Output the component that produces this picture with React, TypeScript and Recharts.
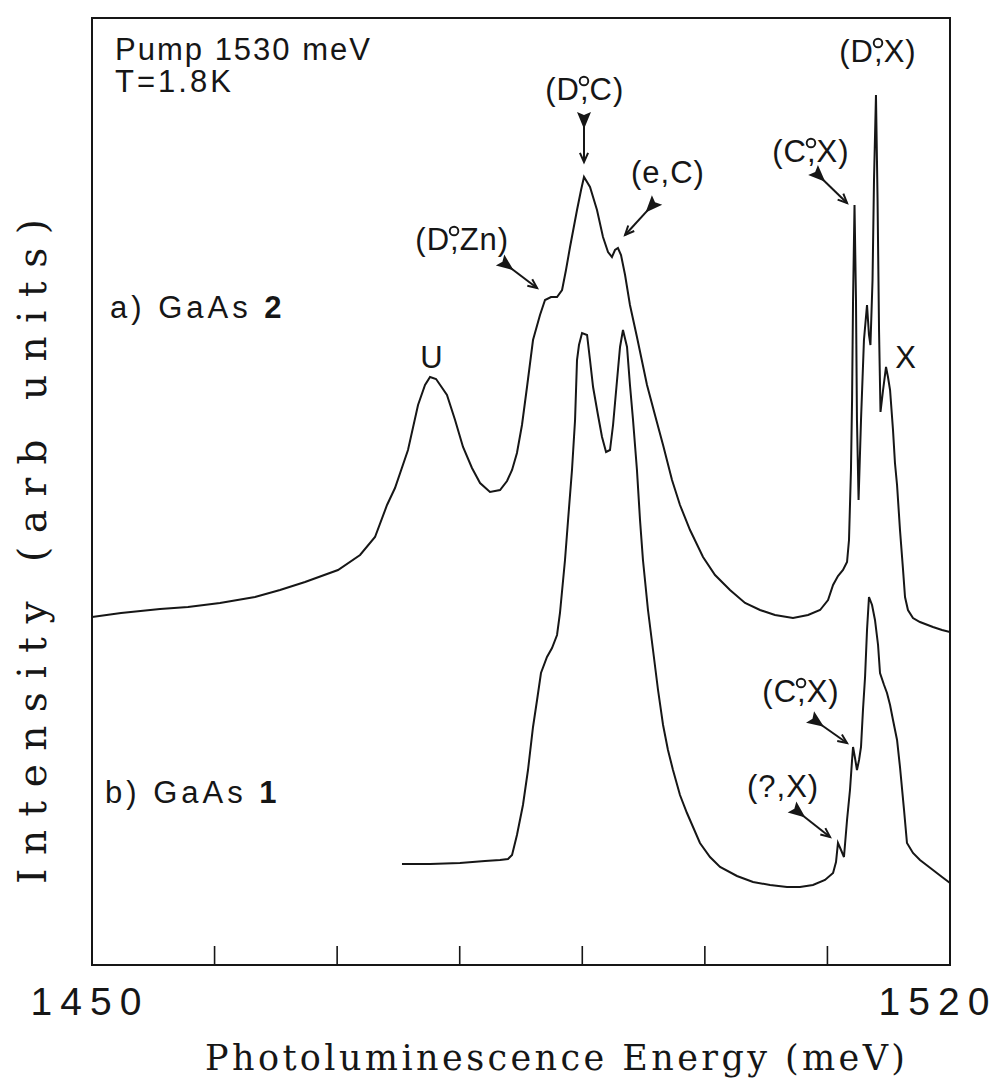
import { LineChart, Line, XAxis, YAxis, ReferenceArea, ReferenceDot } from 'recharts';

// photon energy (meV), intensity (arb. units)
const gaas2: [number, number][] = [
  [1450.0, 348], [1452.37, 352], [1455.55, 356], [1457.83, 358], [1460.44, 362],
  [1463.3, 368], [1465.34, 375], [1467.38, 383], [1470.07, 395], [1471.87, 410],
  [1473.09, 428], [1474.07, 460], [1474.72, 477], [1475.78, 515], [1476.6, 560],
  [1477.17, 580], [1477.58, 588], [1478.07, 586], [1478.96, 570], [1479.62, 545],
  [1480.27, 518], [1481.0, 497], [1481.66, 482], [1482.47, 473], [1483.29, 475],
  [1483.86, 484], [1484.27, 495], [1484.67, 512], [1485.08, 540], [1485.49, 578],
  [1485.98, 625], [1486.55, 650], [1486.96, 665], [1487.45, 668], [1487.94, 668],
  [1488.35, 675], [1488.67, 695], [1489.0, 718], [1489.57, 755], [1489.9, 775],
  [1490.14, 788], [1490.63, 778], [1491.2, 755], [1491.69, 728], [1492.1, 713],
  [1492.42, 708], [1492.67, 715], [1492.91, 717], [1493.16, 710], [1493.49, 690],
  [1493.89, 660], [1494.46, 628], [1495.28, 580], [1495.93, 550], [1496.59, 520],
  [1497.32, 485], [1497.97, 460], [1498.79, 435], [1499.85, 408], [1500.83, 390],
  [1502.05, 375], [1503.28, 362], [1504.5, 355], [1505.72, 350], [1507.19, 347],
  [1508.42, 350], [1509.4, 355], [1510.05, 365], [1510.46, 380], [1510.86, 389],
  [1511.27, 395], [1511.6, 403], [1511.76, 425], [1511.92, 495], [1512.01, 565],
  [1512.09, 665], [1512.21, 760], [1512.33, 665], [1512.41, 545], [1512.54, 465],
  [1512.74, 545], [1512.98, 625], [1513.23, 660], [1513.39, 630], [1513.51, 620],
  [1513.68, 685], [1513.8, 785], [1513.96, 870], [1514.09, 765], [1514.21, 635],
  [1514.33, 553], [1514.54, 575], [1514.78, 598], [1514.94, 588], [1515.11, 575],
  [1515.35, 535], [1515.51, 502], [1515.68, 480], [1515.92, 435], [1516.17, 395],
  [1516.33, 368], [1516.57, 355], [1516.98, 347], [1517.55, 343], [1518.61, 338],
  [1519.35, 335], [1520.0, 333],
];

const gaas1: [number, number][] = [
  [1475.29, 101], [1477.58, 101], [1480.02, 102], [1482.06, 104], [1483.29, 105],
  [1483.94, 106], [1484.27, 110], [1484.67, 130], [1485.16, 160], [1485.57, 195],
  [1485.98, 238], [1486.31, 265], [1486.63, 292], [1487.12, 308], [1487.53, 317],
  [1487.94, 330], [1488.18, 352], [1488.59, 405], [1488.84, 445], [1489.16, 495],
  [1489.41, 545], [1489.57, 605], [1489.73, 620], [1489.98, 632], [1490.39, 630],
  [1490.63, 605], [1490.88, 578], [1491.28, 550], [1491.61, 528], [1491.94, 513],
  [1492.26, 515], [1492.51, 540], [1492.67, 562], [1492.91, 595], [1493.08, 618],
  [1493.32, 635], [1493.65, 618], [1493.89, 580], [1494.14, 545], [1494.46, 495],
  [1494.71, 445], [1494.95, 405], [1495.36, 355], [1495.77, 315], [1496.18, 275],
  [1496.59, 240], [1496.99, 215], [1497.4, 195], [1497.97, 170], [1498.54, 152],
  [1499.6, 122], [1500.42, 108], [1501.24, 98], [1502.62, 89], [1503.93, 83],
  [1505.32, 80], [1506.7, 78], [1507.76, 78], [1508.82, 80], [1509.8, 85],
  [1510.46, 92], [1510.7, 103], [1510.86, 122], [1511.11, 115], [1511.35, 108],
  [1511.6, 145], [1511.84, 175], [1512.01, 205], [1512.09, 218], [1512.25, 207],
  [1512.41, 195], [1512.58, 205], [1512.74, 218], [1512.9, 255], [1513.07, 288],
  [1513.23, 335], [1513.39, 368], [1513.64, 360], [1513.88, 345], [1514.13, 320],
  [1514.29, 292], [1514.62, 280], [1514.86, 272], [1515.11, 260], [1515.35, 245],
  [1515.68, 225], [1515.92, 198], [1516.25, 155], [1516.49, 122], [1516.98, 112],
  [1517.55, 105], [1518.61, 95], [1519.35, 88], [1520.0, 82],
];

const energyTicks = [1450, 1460, 1470, 1480, 1490, 1500, 1510, 1520];
const labelledTicks = [1450, 1520];

// text placed in data space (energy, intensity); labels with a ° ring are anchored at the comma
const notes = [
  { e: 1451.88, i: 905, text: 'Pump 1530 meV', anchor: 'start', spacing: 2 },
  { e: 1451.88, i: 873, text: 'T=1.8K', anchor: 'start', spacing: 3 },
  { e: 1451.47, i: 647, text: 'a) GaAs ', bold: '2', anchor: 'start', spacing: 4 },
  { e: 1451.06, i: 162, text: 'b) GaAs ', bold: '1', anchor: 'start', spacing: 4 },
  { e: 1477.74, i: 597, text: 'U' },
  { e: 1516.41, i: 597, text: 'X' },
  { e: 1479.13, i: 715, text: '(D°,Zn)' },
  { e: 1489.73, i: 865, text: '(D°,C)' },
  { e: 1496.99, i: 782, text: '(e,C)' },
  { e: 1513.72, i: 903, text: '(D°,X)' },
  { e: 1508.25, i: 803, text: '(C°,X)' },
  { e: 1507.44, i: 263, text: '(C°,X)' },
  { e: 1506.38, i: 168, text: '(?,X)' },
];

// arrow tips sit on the features; dx/dy is the tail offset in px
const arrows = [
  { e: 1486.31, i: 677, dx: -37, dy: -28 },
  { e: 1490.14, i: 803, dx: 0, dy: -50 },
  { e: 1493.49, i: 730, dx: 32, dy: -35 },
  { e: 1511.6, i: 762, dx: -34, dy: -33 },
  { e: 1511.6, i: 222, dx: -37, dy: -26 },
  { e: 1510.21, i: 128, dx: -38, dy: -30 },
];

const sans = '"Liberation Sans", Arial, sans-serif';
const serif = '"DejaVu Serif", serif';
const ink = '#161616';
const noteSize = 31;

const rows = (pts: [number, number][]) => pts.map(([e, i]) => ({ e, i }));

function NoteText({ cx, cy, text, bold, anchor, spacing }: any) {
  const parts = text.split('°');
  const common = { y: cy, fontFamily: sans, fontSize: noteSize, fill: ink, letterSpacing: spacing ?? 1 };
  if (parts.length === 2) {
    // the small ring sits over the comma, as in (D°,C)
    return (
      <g>
        <text {...common} x={cx + 1} textAnchor="end">{parts[0]}</text>
        <circle cx={cx + 5} cy={cy - 19} r={4.3} fill="none" stroke={ink} strokeWidth={1.9} />
        <text {...common} x={cx + 1} textAnchor="start">{parts[1]}</text>
      </g>
    );
  }
  return (
    <text {...common} x={cx} textAnchor={anchor ?? 'middle'}>
      {text}
      {bold && <tspan fontWeight="bold">{bold}</tspan>}
    </text>
  );
}

function Dart({ cx, cy, dx, dy }: any) {
  const len = Math.hypot(dx, dy);
  const ux = -dx / len;
  const uy = -dy / len;
  const px = -uy;
  const py = ux;
  const tx = cx + dx;
  const ty = cy + dy;
  const head = 10;
  const a = 0.42;
  const bx = -ux;
  const by = -uy;
  const h1 = [cx + head * (bx * Math.cos(a) - by * Math.sin(a)), cy + head * (bx * Math.sin(a) + by * Math.cos(a))];
  const h2 = [cx + head * (bx * Math.cos(-a) - by * Math.sin(-a)), cy + head * (bx * Math.sin(-a) + by * Math.cos(-a))];
  const fl = [
    [tx + px * 7, ty + py * 7],
    [tx + ux * 17, ty + uy * 17],
    [tx - px * 7, ty - py * 7],
    [tx + ux * 3, ty + uy * 3],
  ];
  return (
    <g>
      <line x1={tx + ux * 10} y1={ty + uy * 10} x2={cx} y2={cy} stroke={ink} strokeWidth={2} />
      <polyline points={`${h1[0]},${h1[1]} ${cx},${cy} ${h2[0]},${h2[1]}`} fill="none" stroke={ink} strokeWidth={2} />
      <polygon points={fl.map((p) => p.join(',')).join(' ')} fill={ink} />
    </g>
  );
}

function BottomTick({ x, y, payload }: any) {
  const v = payload.value;
  return (
    <g>
      <line x1={x} x2={x} y1={y} y2={y - 19} stroke={ink} strokeWidth={1.6} />
      {labelledTicks.includes(v) && (
        <text x={x + (v === 1520 ? -12 : -2)} y={y + 50} textAnchor="middle" fontFamily={sans} fontSize={39} letterSpacing={8} fill={ink}>
          {v}
        </text>
      )}
    </g>
  );
}

function TopTick({ x, y }: any) {
  return <line x1={x} x2={x} y1={y} y2={y + 17} stroke={ink} strokeWidth={1.6} />;
}

export default function App() {
  return (
    <div style={{ position: 'absolute', left: 0, top: 0, width: 999, height: 1092, background: '#fff' }}>
      <LineChart width={999} height={1092} margin={{ top: 0, right: 49, bottom: 67, left: 32 }}>
        <XAxis
          dataKey="e"
          type="number"
          domain={[1450, 1520]}
          ticks={energyTicks}
          interval={0}
          allowDataOverflow
          axisLine={false}
          tickLine={false}
          tickSize={0}
          tickMargin={0}
          height={60}
          tick={<BottomTick />}
          label={{
            content: ({ viewBox }: any) => (
              <text x={viewBox.x + viewBox.width / 2 + 34} y={viewBox.y + 105} textAnchor="middle" fontFamily={serif} fontSize={35} fill={ink} textLength={700} lengthAdjust="spacing">
                Photoluminescence Energy (meV)
              </text>
            ),
          }}
        />
        <XAxis
          xAxisId="top"
          orientation="top"
          type="number"
          domain={[1450, 1520]}
          ticks={energyTicks}
          interval={0}
          axisLine={false}
          tickLine={false}
          tickSize={0}
          tickMargin={0}
          height={18}
          tick={<TopTick />}
        />
        <YAxis
          type="number"
          domain={[0, 947]}
          width={60}
          tick={false}
          axisLine={false}
          tickLine={false}
          label={{
            content: ({ viewBox }: any) => {
              const cx = viewBox.x + 14;
              const cy = viewBox.y + viewBox.height / 2 + 60;
              return (
                <text x={cx} y={cy} transform={`rotate(-90 ${cx} ${cy})`} textAnchor="middle" fontFamily={serif} fontSize={39} fill={ink} textLength={665} lengthAdjust="spacing">
                  Intensity (arb units)
                </text>
              );
            },
          }}
        />
        <ReferenceArea x1={1450} x2={1520} y1={0} y2={947} fill="none" stroke={ink} strokeWidth={2} ifOverflow="visible" />
        <Line data={rows(gaas2)} dataKey="i" type="linear" stroke={ink} strokeWidth={2} dot={false} activeDot={false} isAnimationActive={false} />
        <Line data={rows(gaas1)} dataKey="i" type="linear" stroke={ink} strokeWidth={2} dot={false} activeDot={false} isAnimationActive={false} />
        {arrows.map((a, k) => (
          <ReferenceDot key={`a${k}`} x={a.e} y={a.i} ifOverflow="visible" shape={(p: any) => <Dart cx={p.cx} cy={p.cy} dx={a.dx} dy={a.dy} />} />
        ))}
        {notes.map((n, k) => (
          <ReferenceDot
            key={`n${k}`}
            x={n.e}
            y={n.i}
            ifOverflow="visible"
            shape={(p: any) => <NoteText cx={p.cx} cy={p.cy} text={n.text} bold={n.bold} anchor={n.anchor} spacing={n.spacing} />}
          />
        ))}
      </LineChart>
    </div>
  );
}
